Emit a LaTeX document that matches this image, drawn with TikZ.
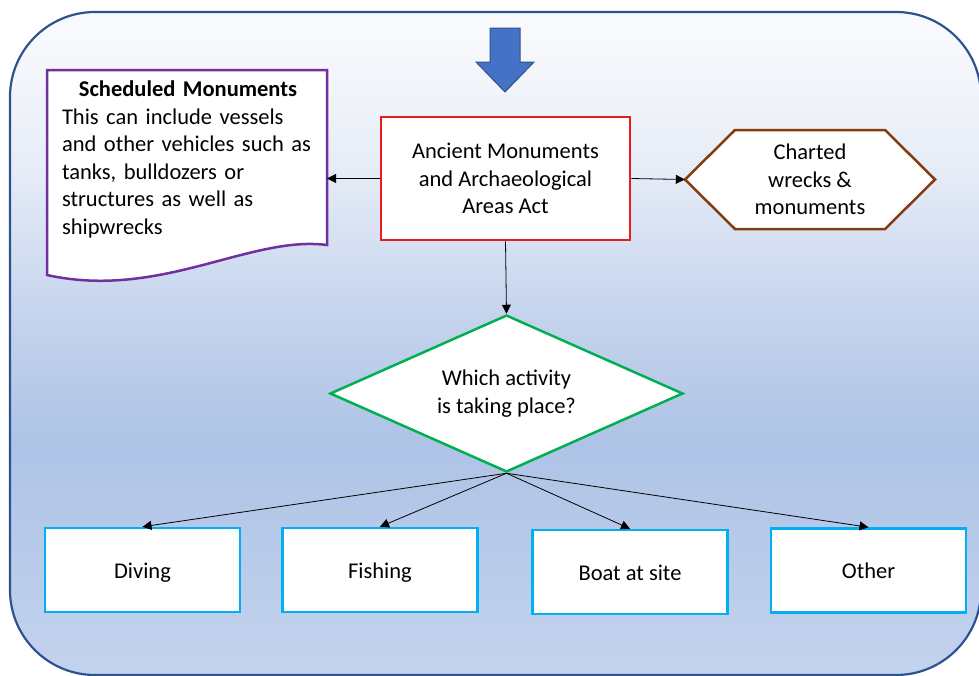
\documentclass[tikz,border=0pt]{standalone}
\usepackage{fontspec}
\setmainfont{Carlito}
\usepackage{tikz}
\usetikzlibrary{arrows.meta,positioning,calc,shapes.geometric}
\usepackage{xcolor}
\definecolor{frameblue}{HTML}{2F528F}
\definecolor{cueblue}{HTML}{4472C4}
\definecolor{actred}{HTML}{E81C1C}
\definecolor{docpurple}{HTML}{7030A0}
\definecolor{hexbrown}{HTML}{843C0C}
\definecolor{decgreen}{HTML}{00B050}
\definecolor{leafcyan}{HTML}{00B0F0}
\definecolor{bgtop}{HTML}{F8F9FC}
\definecolor{bgfair}{HTML}{E6ECF7}
\definecolor{bgmid}{HTML}{C8D6EE}
\definecolor{bgdeep}{HTML}{AEC3E6}
\definecolor{bglow}{HTML}{C3D3EE}
\pgfdeclareverticalshading{bgfade}{100bp}{color(0bp)=(bglow); color(25bp)=(bglow);
  color(42.7bp)=(bgdeep); color(53.3bp)=(bgmid); color(63bp)=(bgfair);
  color(73bp)=(bgtop); color(100bp)=(bgtop)}
\tikzset{
  backdrop/.style = {draw=frameblue, line width=2.2pt, rounded corners=85pt, shading=bgfade},
  actbox/.style   = {draw=actred, line width=2.5pt, fill=white, rectangle,
                     minimum width=249pt, minimum height=123pt, align=center},
  docline/.style  = {draw=docpurple, line width=2.5pt, fill=white},
  doctext/.style  = {text width=252pt, inner sep=0pt},
  hexline/.style  = {draw=hexbrown, line width=2.5pt, fill=white, line join=miter},
  hexbox/.style   = {minimum width=250pt, minimum height=99pt, inner sep=0pt, align=center},
  decbox/.style   = {draw=decgreen, line width=2.5pt, fill=white, diamond, aspect=2.25,
                     minimum width=353pt, minimum height=157pt, inner sep=2pt, align=center},
  leaf/.style     = {draw=leafcyan, line width=2.5pt, fill=white, rectangle,
                     text height=16pt, text depth=0pt,
                     minimum width=195pt, minimum height=84pt},
  link/.style     = {-{Triangle[length=9pt,width=9pt]}, line width=0.8pt},
}

\begin{document}
\begin{tikzpicture}[x=1pt,y=-1pt,font=\fontsize{22.5}{27.5}\selectfont]
\clip (0,0) rectangle (979,675);
\path[backdrop] (10,12) rectangle (981,675);
% arrow at top
\filldraw[fill=cueblue, draw=frameblue, line width=1pt, line join=miter]
  (490,28) -- (520,28) -- (520,62) -- (534,62) -- (505,92) -- (476,62) -- (490,62) -- cycle;

% scheduled monuments (wavy document)
\draw[docline] (47,70) -- (327,70) -- (327,245)
  .. controls (250,235) and (160,300) .. (47,275) -- cycle;
\coordinate (docedge) at (327,245);
\node[doctext, anchor=north] (doc) at (188,81)
  {{\centering\textbf{Scheduled Monuments}\par}
   \raggedright
   This can include vessels\\
   and other vehicles such as\\
   tanks, bulldozers or\\
   structures as well as\\
   shipwrecks};

% charted wrecks (hexagon)
\coordinate (chartc) at (810,179.5);
\draw[hexline] ($(chartc)+(-125,0)$) -- ($(chartc)+(-75,-49.5)$) -- ($(chartc)+(75,-49.5)$)
  -- ($(chartc)+(125,0)$) -- ($(chartc)+(75,49.5)$) -- ($(chartc)+(-75,49.5)$) -- cycle;
\node[hexbox] (chart) at (chartc) {Charted\\wrecks \&\\monuments};

\node[actbox] (act) at (505.5,178.5) {Ancient Monuments\\and Archaeological\\Areas Act};
\node[decbox] (dec) at (506.5,393.5) {Which activity\\is taking place?};

\node[leaf] (diving)  at (142.5,570) {Diving};
\node[leaf] (fishing) at (380,570)   {Fishing};
\node[leaf] (boat)    at (630,572)   {Boat at site};
\node[leaf] (other)   at (868.5,570.5) {Other};

% connectors
\draw[link] (act.west) -- (act.west -| docedge);
\draw[link] (act.east) -- (chart.west);
\draw[link] (act.south) -- (dec.north);
\foreach \t in {diving,fishing,boat,other}
  \draw[link] (dec.south) -- (\t.north);
\end{tikzpicture}
\end{document}
